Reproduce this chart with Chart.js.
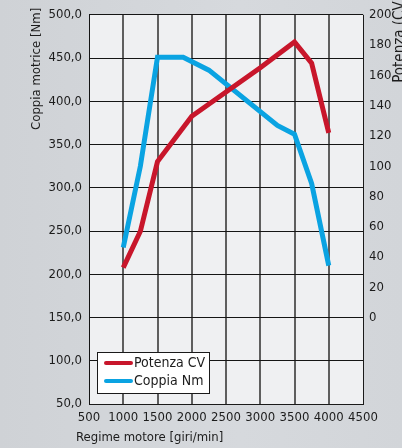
<!DOCTYPE html>
<html>
<head>
<meta charset="utf-8">
<script src="https://cdn.jsdelivr.net/npm/chart.js@4.4.1/dist/chart.umd.min.js"></script>
<style>
  html, body { margin: 0; padding: 0; }
  body { background: linear-gradient(to right, #cfd2d6, #d6d9dd 60%, #d2d5d9); }
  #wrap { width: 402px; height: 448px; position: relative; }
</style>
</head>
<body>
<div id="wrap"><canvas id="c"></canvas></div>
<script>
const FONT = "'Liberation Sans Narrow', 'DejaVu Sans Condensed', sans-serif";
const TEXT = '#1c1c1c';

// Potenza (CV) vs giri/min
const powerRpm = [1000, 1250, 1500, 2000, 2500, 3000, 3500, 3750, 4000];
const powerCv  = [33, 57, 103, 133, 149, 165, 182, 168, 122];

// Coppia (Nm) vs giri/min
const torqueRpm = [1000, 1250, 1500, 1875, 2250, 3250, 3500, 3750, 4000];
const torqueNm  = [231, 325, 451, 451, 436, 372, 362, 305, 210];

const seriesLabels = ['Potenza CV', 'Coppia Nm'];
const seriesColors = ['#c8162b', '#0aa3e2'];

const xTitle = 'Regime motore [giri/min]';
const yTitle = 'Coppia motrice [Nm]';
const y1Title = 'Potenza (CV)';

// right axis: 0 CV sits on 150 Nm, 200 CV on 500 Nm
const nmMin = 50, nmMax = 500;
const cvMin = (nmMin - 150) * 200 / 350, cvMax = 200;

const toPoints = (xs, ys) => xs.map((x, i) => ({ x, y: ys[i] }));

const plotBg = {
    id: 'plotBg',
    beforeDraw(chart) {
        const { ctx, chartArea: a } = chart;
        ctx.save();
        ctx.fillStyle = '#eff0f2';
        ctx.fillRect(a.left, a.top, a.right - a.left, a.bottom - a.top);
        ctx.restore();
    }
};

const titles = {
    id: 'titles',
    afterDraw(chart) {
        const { ctx, chartArea: a } = chart;
        ctx.save();
        ctx.fillStyle = TEXT;
        ctx.font = '13px ' + FONT;
        ctx.textBaseline = 'middle';
        // x title
        ctx.textAlign = 'left';
        ctx.fillText(xTitle, a.left - 13, chart.height - 10);
        // left title, rotated
        ctx.save();
        ctx.translate(37, a.top - 7);
        ctx.rotate(-Math.PI / 2);
        ctx.textAlign = 'right';
        ctx.fillText(yTitle, 0, 0);
        ctx.restore();
        // right title, rotated, runs off the canvas
        ctx.save();
        ctx.font = '15px ' + FONT;
        ctx.translate(chart.width - 2, a.top + 68);
        ctx.rotate(-Math.PI / 2);
        ctx.textAlign = 'left';
        ctx.fillText(y1Title, 0, 0);
        ctx.restore();
        ctx.restore();
    }
};

const insideLegend = {
    id: 'insideLegend',
    afterDatasetsDraw(chart) {
        const { ctx, chartArea: a } = chart;
        const w = 113, h = 42;
        const x = a.left + 8, y = a.bottom - 10 - h;
        ctx.save();
        ctx.fillStyle = '#ffffff';
        ctx.fillRect(x, y, w, h);
        ctx.strokeStyle = '#1a1a1a';
        ctx.lineWidth = 1;
        ctx.strokeRect(x + 0.5, y + 0.5, w - 1, h - 1);
        ctx.font = '14px ' + FONT;
        ctx.textBaseline = 'middle';
        ctx.textAlign = 'left';
        chart.data.datasets.forEach((ds, i) => {
            const cy = y + 11 + i * 18;
            ctx.strokeStyle = ds.borderColor;
            ctx.lineWidth = 4;
            ctx.lineCap = 'round';
            ctx.beginPath();
            ctx.moveTo(x + 9, cy);
            ctx.lineTo(x + 34, cy);
            ctx.stroke();
            ctx.fillStyle = TEXT;
            ctx.fillText(ds.label, x + 37, cy);
        });
        ctx.restore();
    }
};

new Chart(document.getElementById('c'), {
    type: 'line',
    data: {
        datasets: [
            {
                label: seriesLabels[0],
                data: toPoints(powerRpm, powerCv),
                yAxisID: 'y1',
                borderColor: seriesColors[0],
                borderWidth: 5,
                pointRadius: 0,
                tension: 0
            },
            {
                label: seriesLabels[1],
                data: toPoints(torqueRpm, torqueNm),
                yAxisID: 'y',
                borderColor: seriesColors[1],
                borderWidth: 5,
                pointRadius: 0,
                tension: 0
            }
        ]
    },
    options: {
        responsive: true, maintainAspectRatio: false,
        animation: false,
        layout: { padding: { top: 14, left: 0, right: 0, bottom: 0 } },
        plugins: { legend: { display: false }, tooltip: { enabled: false } },
        scales: {
            x: {
                type: 'linear', min: 500, max: 4500,
                afterFit: s => { s.height = 44; },
                ticks: {
                    stepSize: 500, padding: 6, color: TEXT, font: { family: FONT, size: 13 },
                    maxRotation: 0, minRotation: 0, autoSkip: false,
                    callback: v => String(v)
                },
                grid: {
                    drawTicks: false,
                    color: c => (c.tick && (c.tick.value === 4500 || c.tick.value === 500)) ? '#1a1a1a' : '#5e5e5e',
                    lineWidth: c => (c.tick && (c.tick.value === 4500 || c.tick.value === 500)) ? 1 : 2
                },
                border: { color: '#1a1a1a', width: 1 }
            },
            y: {
                position: 'left', min: nmMin, max: nmMax,
                afterFit: s => { s.width = 89; },
                ticks: {
                    stepSize: 50, padding: 7, color: TEXT, font: { family: FONT, size: 13 },
                    callback: v => v.toFixed(1).replace('.', ',')
                },
                grid: { drawTicks: false, color: '#151515', lineWidth: 1 },
                border: { color: '#151515', width: 1 }
            },
            y1: {
                position: 'right', min: cvMin, max: cvMax,
                afterFit: s => { s.width = 39; },
                afterBuildTicks: s => { s.ticks = s.ticks.filter(t => t.value >= 0 && t.value % 20 === 0); },
                ticks: { stepSize: 20, padding: 6, color: TEXT, font: { family: FONT, size: 13 } },
                grid: { display: false, drawTicks: false },
                border: { display: false }
            }
        }
    },
    plugins: [plotBg, insideLegend, titles]
});
</script>
</body>
</html>
